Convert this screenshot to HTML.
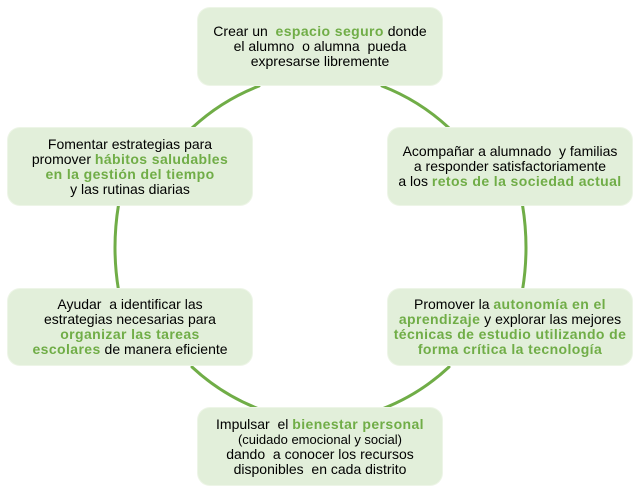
<!DOCTYPE html>
<html>
<head>
<meta charset="utf-8">
<style>
  html, body { margin: 0; padding: 0; background: #ffffff; }
  body { width: 642px; height: 493px; position: relative; overflow: hidden;
         font-family: "Liberation Sans", Arial, sans-serif; }
  svg.arcs { position: absolute; left: 0; top: 0; }
  .box {
    position: absolute; width: 244px; height: 77px;
    background: #E2EFDA; border-radius: 12px;
    box-shadow: 0 0 0 1px #EDF5E7;
    display: flex; align-items: center; justify-content: center;
    text-align: center; font-size: 14px; line-height: 15px; color: #000;
    white-space: nowrap;
  }
  .g { color: #70AD47; font-weight: bold; letter-spacing: 0.4px; }
  .sm { font-size: 13px; }
</style>
</head>
<body>
<svg class="arcs" width="642" height="493" viewBox="0 0 642 493">
  <g fill="none" stroke="#70AD47" stroke-width="3" stroke-linecap="round">
    <path d="M259,86 Q221.5,100.5 192,128"/>
    <path d="M382,86 Q419.5,100.5 449,128"/>
    <path d="M118.5,205 Q111.5,247.5 118.5,290"/>
    <path d="M522.5,205 Q529.5,247.5 522.5,290"/>
    <path d="M192,367 Q221.5,394.5 259,409"/>
    <path d="M449,367 Q419.5,394.5 382,409"/>
  </g>
</svg>

<div class="box" style="left:198px; top:8px;">
  <div>Crear un&nbsp; <span class="g">espacio seguro</span> donde<br>el alumno&nbsp; o alumna&nbsp; pueda<br>expresarse libremente</div>
</div>

<div class="box" style="left:8px; top:128px;">
  <div>Fomentar estrategias para<br>promover <span class="g">hábitos saludables</span><br><span class="g">en la gestión del tiempo</span><br>y las rutinas diarias</div>
</div>

<div class="box" style="left:388px; top:128px;">
  <div>Acompañar a alumnado&nbsp; y familias<br>a responder satisfactoriamente<br>a los <span class="g">retos de la sociedad actual</span></div>
</div>

<div class="box" style="left:8px; top:289px; height:76px;">
  <div>Ayudar&nbsp; a identificar las<br>estrategias necesarias para<br><span class="g">organizar las tareas</span><br><span class="g">escolares</span> de manera eficiente</div>
</div>

<div class="box" style="left:388px; top:289px; height:76px;">
  <div>Promover la <span class="g">autonomía en el</span><br><span class="g">aprendizaje</span> y explorar las mejores<br><span class="g">técnicas de estudio utilizando de</span><br><span class="g">forma crítica la tecnología</span></div>
</div>

<div class="box" style="left:198px; top:408px;">
  <div>Impulsar&nbsp; el <span class="g">bienestar personal</span><br><span class="sm">(cuidado emocional y social)</span><br>dando&nbsp; a conocer los recursos<br>disponibles&nbsp; en cada distrito</div>
</div>
</body>
</html>
